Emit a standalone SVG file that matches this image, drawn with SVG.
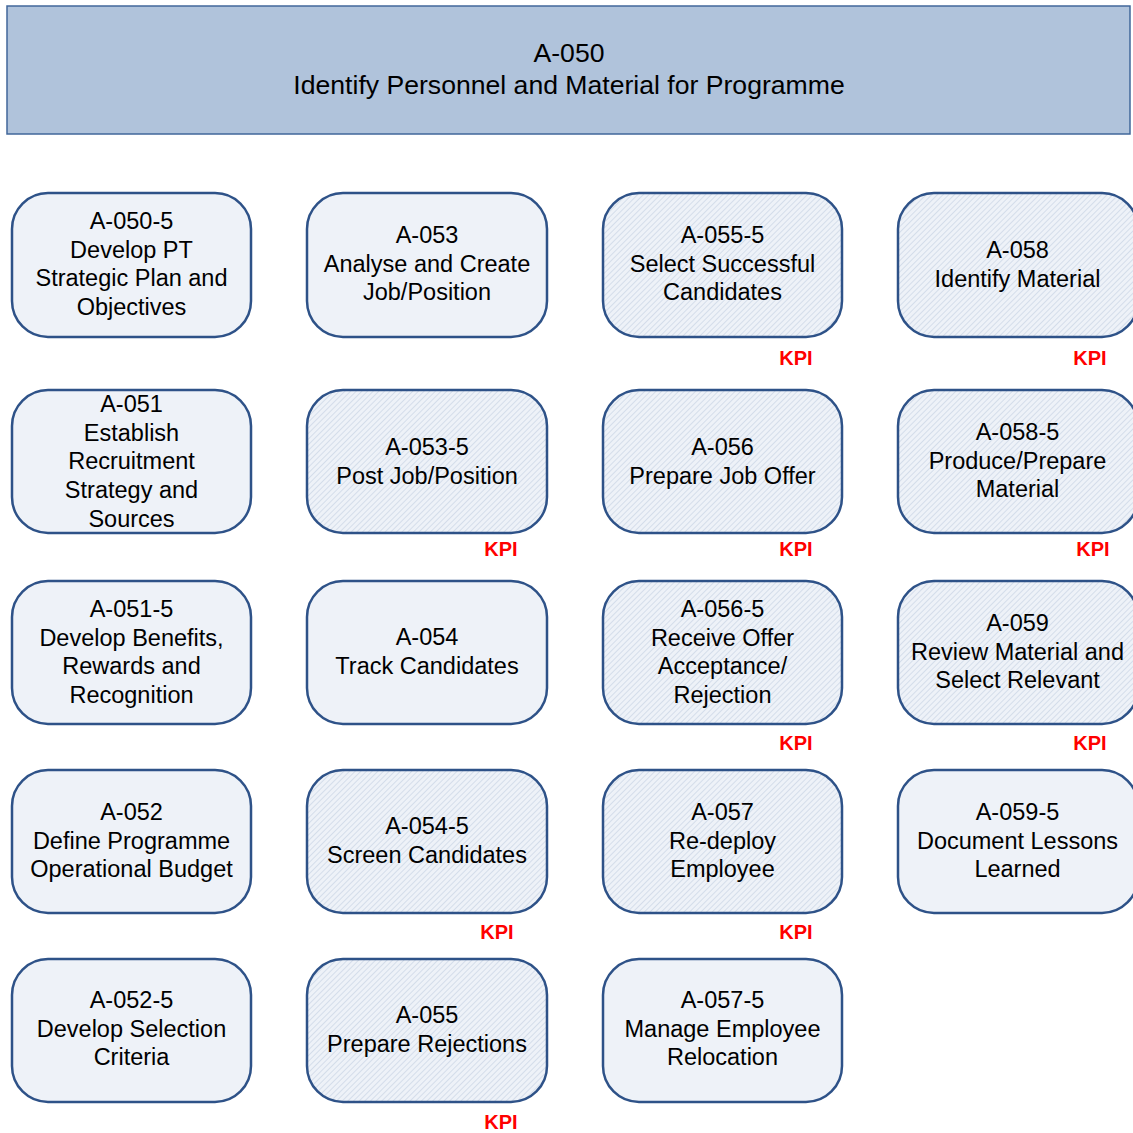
<svg xmlns="http://www.w3.org/2000/svg" width="1133" height="1133" viewBox="0 0 1133 1133">
  <defs>
    <!-- diagonal hatching used on the KPI activity boxes -->
    <pattern id="hatch" patternUnits="userSpaceOnUse" width="4" height="4" patternTransform="rotate(45)">
      <rect width="4" height="4" fill="#EEF2F8"/>
      <line x1="0" y1="0" x2="0" y2="4" stroke="#C9D4E5" stroke-width="1.4"/>
    </pattern>
  </defs>
  <style>
    .hdr { fill: #B0C3DB; stroke: #41679A; stroke-width: 1.5; }
    .box { fill: #EEF2F8; stroke: #2E5288; stroke-width: 2.5; }
    .box.kpi { fill: url(#hatch); }
    .t { font-family: "Liberation Sans", Arial, sans-serif; font-size: 23.5px; fill: #000; text-anchor: middle; }
    .ht { font-family: "Liberation Sans", Arial, sans-serif; font-size: 26.6px; fill: #000; text-anchor: middle; }
    .k { font-family: "Liberation Sans", Arial, sans-serif; font-size: 20px; font-weight: bold; fill: #FF0000; text-anchor: middle; }
  </style>
  <rect width="1133" height="1133" fill="#FFFFFF"/>

  <g id="A-050">
    <rect class="hdr" x="7" y="6" width="1123" height="128"/>
    <text class="ht" x="569" y="62">A-050</text>
    <text class="ht" x="569" y="94">Identify Personnel and Material for Programme</text>
  </g>

  <!-- no connectors in this decomposition -->
  <g id="connectors"/>

  <!-- column 1 -->
  <g id="A-050-5">
    <rect class="box" x="12" y="193" width="239" height="144" rx="36"/>
    <text class="t" x="131.5" y="229"><tspan x="131.5">A-050-5</tspan><tspan x="131.5" dy="28.7">Develop PT</tspan><tspan x="131.5" dy="28.7">Strategic Plan and</tspan><tspan x="131.5" dy="28.7">Objectives</tspan></text>
  </g>
  <g id="A-051">
    <rect class="box" x="12" y="390" width="239" height="143" rx="36"/>
    <text class="t" x="131.5" y="412"><tspan x="131.5">A-051</tspan><tspan x="131.5" dy="28.7">Establish</tspan><tspan x="131.5" dy="28.7">Recruitment</tspan><tspan x="131.5" dy="28.7">Strategy and</tspan><tspan x="131.5" dy="28.7">Sources</tspan></text>
  </g>
  <g id="A-051-5">
    <rect class="box" x="12" y="581" width="239" height="143" rx="36"/>
    <text class="t" x="131.5" y="617"><tspan x="131.5">A-051-5</tspan><tspan x="131.5" dy="28.7">Develop Benefits,</tspan><tspan x="131.5" dy="28.7">Rewards and</tspan><tspan x="131.5" dy="28.7">Recognition</tspan></text>
  </g>
  <g id="A-052">
    <rect class="box" x="12" y="770" width="239" height="143" rx="36"/>
    <text class="t" x="131.5" y="820"><tspan x="131.5">A-052</tspan><tspan x="131.5" dy="28.7">Define Programme</tspan><tspan x="131.5" dy="28.7">Operational Budget</tspan></text>
  </g>
  <g id="A-052-5">
    <rect class="box" x="12" y="959" width="239" height="143" rx="36"/>
    <text class="t" x="131.5" y="1008"><tspan x="131.5">A-052-5</tspan><tspan x="131.5" dy="28.7">Develop Selection</tspan><tspan x="131.5" dy="28.7">Criteria</tspan></text>
  </g>

  <!-- column 2 -->
  <g id="A-053">
    <rect class="box" x="307" y="193" width="240" height="144" rx="36"/>
    <text class="t" x="427" y="243"><tspan x="427">A-053</tspan><tspan x="427" dy="28.7">Analyse and Create</tspan><tspan x="427" dy="28.7">Job/Position</tspan></text>
  </g>
  <g id="A-053-5">
    <rect class="box kpi" x="307" y="390" width="240" height="143" rx="36"/>
    <text class="t" x="427" y="455"><tspan x="427">A-053-5</tspan><tspan x="427" dy="28.7">Post Job/Position</tspan></text>
    <text class="k" x="501" y="556">KPI</text>
  </g>
  <g id="A-054">
    <rect class="box" x="307" y="581" width="240" height="143" rx="36"/>
    <text class="t" x="427" y="645"><tspan x="427">A-054</tspan><tspan x="427" dy="28.7">Track Candidates</tspan></text>
  </g>
  <g id="A-054-5">
    <rect class="box kpi" x="307" y="770" width="240" height="143" rx="36"/>
    <text class="t" x="427" y="834"><tspan x="427">A-054-5</tspan><tspan x="427" dy="28.7">Screen Candidates</tspan></text>
    <text class="k" x="497" y="939">KPI</text>
  </g>
  <g id="A-055">
    <rect class="box kpi" x="307" y="959" width="240" height="143" rx="36"/>
    <text class="t" x="427" y="1023"><tspan x="427">A-055</tspan><tspan x="427" dy="28.7">Prepare Rejections</tspan></text>
    <text class="k" x="501" y="1129">KPI</text>
  </g>

  <!-- column 3 -->
  <g id="A-055-5">
    <rect class="box kpi" x="603" y="193" width="239" height="144" rx="36"/>
    <text class="t" x="722.5" y="243"><tspan x="722.5">A-055-5</tspan><tspan x="722.5" dy="28.7">Select Successful</tspan><tspan x="722.5" dy="28.7">Candidates</tspan></text>
    <text class="k" x="796" y="365">KPI</text>
  </g>
  <g id="A-056">
    <rect class="box kpi" x="603" y="390" width="239" height="143" rx="36"/>
    <text class="t" x="722.5" y="455"><tspan x="722.5">A-056</tspan><tspan x="722.5" dy="28.7">Prepare Job Offer</tspan></text>
    <text class="k" x="796" y="556">KPI</text>
  </g>
  <g id="A-056-5">
    <rect class="box kpi" x="603" y="581" width="239" height="143" rx="36"/>
    <text class="t" x="722.5" y="617"><tspan x="722.5">A-056-5</tspan><tspan x="722.5" dy="28.7">Receive Offer</tspan><tspan x="722.5" dy="28.7">Acceptance/</tspan><tspan x="722.5" dy="28.7">Rejection</tspan></text>
    <text class="k" x="796" y="750">KPI</text>
  </g>
  <g id="A-057">
    <rect class="box kpi" x="603" y="770" width="239" height="143" rx="36"/>
    <text class="t" x="722.5" y="820"><tspan x="722.5">A-057</tspan><tspan x="722.5" dy="28.7">Re-deploy</tspan><tspan x="722.5" dy="28.7">Employee</tspan></text>
    <text class="k" x="796" y="939">KPI</text>
  </g>
  <g id="A-057-5">
    <rect class="box" x="603" y="959" width="239" height="143" rx="36"/>
    <text class="t" x="722.5" y="1008"><tspan x="722.5">A-057-5</tspan><tspan x="722.5" dy="28.7">Manage Employee</tspan><tspan x="722.5" dy="28.7">Relocation</tspan></text>
  </g>

  <!-- column 4 -->
  <g id="A-058">
    <rect class="box kpi" x="898" y="193" width="240" height="144" rx="36"/>
    <text class="t" x="1017.5" y="258"><tspan x="1017.5">A-058</tspan><tspan x="1017.5" dy="28.7">Identify Material</tspan></text>
    <text class="k" x="1090" y="365">KPI</text>
  </g>
  <g id="A-058-5">
    <rect class="box kpi" x="898" y="390" width="240" height="143" rx="36"/>
    <text class="t" x="1017.5" y="440"><tspan x="1017.5">A-058-5</tspan><tspan x="1017.5" dy="28.7">Produce/Prepare</tspan><tspan x="1017.5" dy="28.7">Material</tspan></text>
    <text class="k" x="1093" y="556">KPI</text>
  </g>
  <g id="A-059">
    <rect class="box kpi" x="898" y="581" width="240" height="143" rx="36"/>
    <text class="t" x="1017.5" y="631"><tspan x="1017.5">A-059</tspan><tspan x="1017.5" dy="28.7">Review Material and</tspan><tspan x="1017.5" dy="28.7">Select Relevant</tspan></text>
    <text class="k" x="1090" y="750">KPI</text>
  </g>
  <g id="A-059-5">
    <rect class="box" x="898" y="770" width="240" height="143" rx="36"/>
    <text class="t" x="1017.5" y="820"><tspan x="1017.5">A-059-5</tspan><tspan x="1017.5" dy="28.7">Document Lessons</tspan><tspan x="1017.5" dy="28.7">Learned</tspan></text>
  </g>
</svg>
